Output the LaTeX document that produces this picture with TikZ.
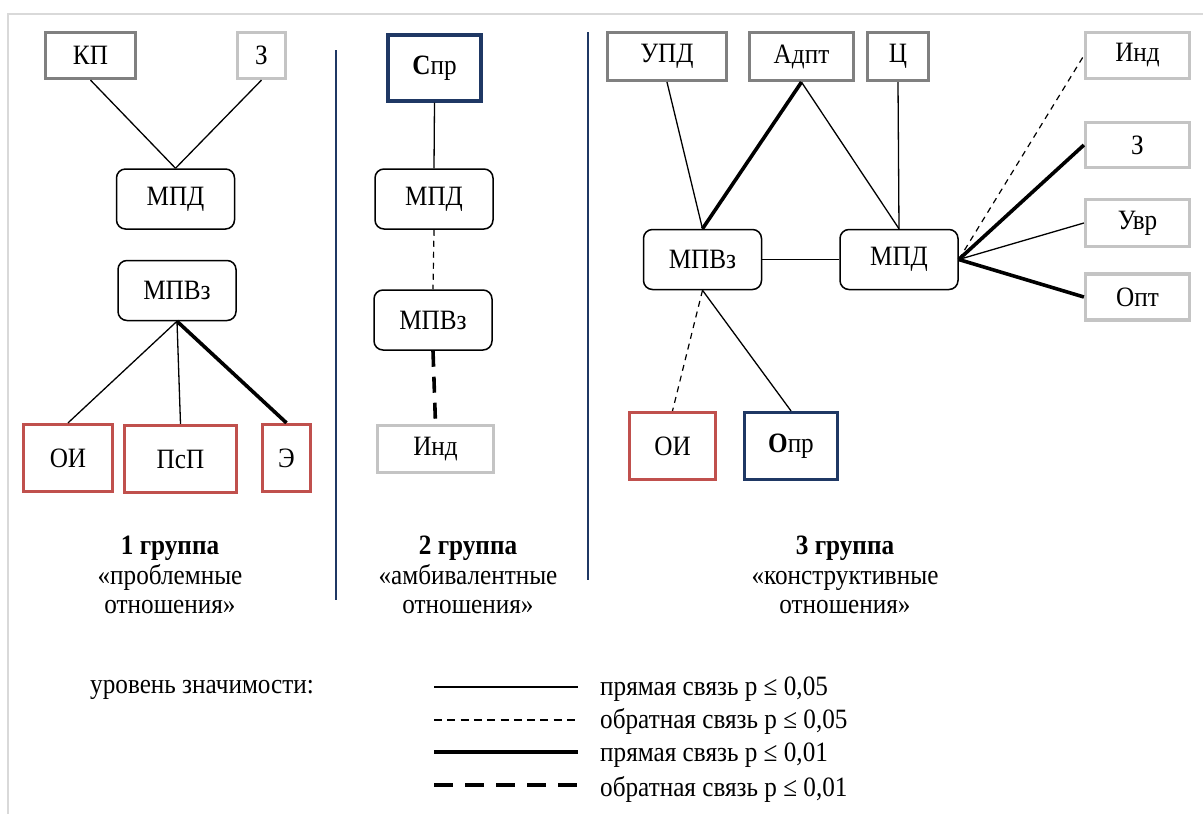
\documentclass[tikz,border=0pt]{standalone}
\usepackage{fontspec}
\setmainfont[FakeStretch=0.9]{Liberation Serif}
\definecolor{frameg}{HTML}{D9D9D9}
\definecolor{dgrey}{HTML}{808080}
\definecolor{lgrey}{HTML}{C4C4C4}
\definecolor{bred}{HTML}{C0504D}
\definecolor{navy}{HTML}{1F3864}
\tikzset{
  sq/.style={draw=#1, line width=3.2pt, inner sep=0pt, font=\fontsize{28}{30}\selectfont},
  rbox/.style={draw=black, line width=1.5pt, rounded corners=9pt, inner sep=0pt,
    minimum width=118pt, minimum height=60pt, font=\fontsize{28}{30}\selectfont},
  pline/.style={line width=1.3pt},
  bline/.style={line width=3.6pt},
  pdash/.style={line width=1.2pt, dash pattern=on 6pt off 5pt},
  bdash/.style={line width=3.6pt, dash pattern=on 16pt off 10pt},
  sep/.style={draw=navy, line width=1.4pt},
  lbl/.style={font=\fontsize{28}{29.5}\selectfont, align=center, inner sep=0pt},
  leg/.style={font=\fontsize{28}{30}\selectfont, anchor=west, inner sep=0pt}
}
\begin{document}
\begin{tikzpicture}[x=1pt,y=-1pt]
\useasboundingbox (0,0) rectangle (1203,814);
% frame
\draw[frameg, line width=2pt] (8,814) -- (8,14) -- (1203,14);
% separators
\coordinate (s1a) at (336,50); \coordinate (s1b) at (336,600);
\coordinate (s2a) at (588,32); \coordinate (s2b) at (588,580);
\draw[sep] (s1a) -- (s1b);
\draw[sep] (s2a) -- (s2b);

% ---------- group 1
\node[sq=dgrey, minimum width=90pt, minimum height=46pt] (kp) at (90.5,55.5) {КП};
\node[sq=lgrey, minimum width=48pt, minimum height=46pt] (z1) at (261.5,55.5) {З};
\node[rbox] (mpd1) at (175.5,199) {МПД};
\node[rbox] (mpvz1) at (177,290.5) {МПВз};
\node[sq=bred, minimum width=89pt, minimum height=67pt] (oi1) at (68,458) {ОИ};
\node[sq=bred, minimum width=112pt, minimum height=67pt] (psp) at (180.5,459) {ПсП};
\node[sq=bred, minimum width=48pt, minimum height=67pt] (e) at (286.5,458) {Э};
\draw[pline] (kp.south) -- (mpd1.north);
\draw[pline] (z1.south) -- (mpd1.north);
\draw[pline] (mpvz1.south) -- (oi1.north);
\draw[pline] (mpvz1.south) -- (psp.north);
\draw[bline] (mpvz1.south) -- (e.north);
\node[lbl] (g1) at (170,575) {\textbf{1 группа}\\«проблемные\\отношения»};

% ---------- group 2
\node[sq=navy, minimum width=93pt, minimum height=66pt] (spr) at (434.5,68) {\raisebox{-4pt}{\textbf{С}пр}};
\node[rbox] (mpd2) at (434,199) {МПД};
\node[rbox] (mpvz2) at (433,320) {МПВз};
\node[sq=lgrey, minimum width=116pt, minimum height=47pt] (ind2) at (435.5,449) {Инд};
\draw[pline] (spr.south) -- (mpd2.north);
\draw[pdash] (mpd2.south) -- (mpvz2.north);
\draw[bdash] (mpvz2.south) -- (ind2.north);
\node[lbl] (g2) at (468,575) {\textbf{2 группа}\\«амбивалентные\\отношения»};

% ---------- group 3
\node[sq=dgrey, minimum width=119pt, minimum height=48pt] (upd) at (667,56.5) {УПД};
\node[sq=dgrey, minimum width=104pt, minimum height=48pt] (adpt) at (801.5,56.5) {Адпт};
\node[sq=dgrey, minimum width=61pt, minimum height=48pt] (c) at (898,56.5) {Ц};
\node[sq=lgrey, minimum width=104pt, minimum height=46pt] (ind3) at (1137.5,55.5) {Инд};
\node[sq=lgrey, minimum width=104pt, minimum height=45pt] (z3) at (1137.5,145) {З};
\node[sq=lgrey, minimum width=104pt, minimum height=47pt] (uvr) at (1137.5,223) {Увр};
\node[sq=lgrey, minimum width=104pt, minimum height=46pt] (opt) at (1137.5,297) {Опт};
\node[rbox] (mpvz3) at (702.5,259.5) {МПВз};
\node[rbox] (mpd3) at (899,259.5) {МПД};
\node[sq=bred, minimum width=86pt, minimum height=67pt] (oi3) at (672.5,446) {ОИ};
\node[sq=navy, minimum width=93pt, minimum height=67pt] (opr) at (791,446) {\textbf{О}пр};
\draw[pline] (upd.south) -- (mpvz3.north);
\draw[bline] (adpt.south) -- (mpvz3.north);
\draw[pline] (adpt.south) -- (mpd3.north);
\draw[pline] (c.south) -- (mpd3.north);
\draw[pline] (mpvz3.east) -- (mpd3.west);
\draw[pdash] (mpd3.east) -- (ind3.west);
\draw[bline] (mpd3.east) -- (z3.west);
\draw[pline] (mpd3.east) -- (uvr.west);
\draw[bline] (mpd3.east) -- (opt.west);
\draw[pdash] (mpvz3.south) -- (oi3.north);
\draw[pline] (mpvz3.south) -- (opr.north);
\node[lbl] (g3) at (845,575) {\textbf{3 группа}\\«конструктивные\\отношения»};

% ---------- legend
\node[leg] (lvl) at (90,690) {уровень значимости:};
\coordinate (l1a) at (434,687); \coordinate (l1b) at (578,687);
\coordinate (l2a) at (434,720); \coordinate (l2b) at (578,720);
\coordinate (l3a) at (434,752); \coordinate (l3b) at (578,752);
\coordinate (l4a) at (434,785); \coordinate (l4b) at (578,785);
\draw[pline] (l1a) -- (l1b);
\draw[line width=1.3pt, dash pattern=on 8pt off 5.3pt] (l2a) -- (l2b);
\draw[line width=4pt] (l3a) -- (l3b);
\draw[line width=4pt, dash pattern=on 19pt off 12pt] (l4a) -- (l4b);
\node[leg] (t1) at (600,689) {прямая связь p ≤ 0,05};
\node[leg] (t2) at (600,721) {обратная связь p ≤ 0,05};
\node[leg] (t3) at (600,755) {прямая связь p ≤ 0,01};
\node[leg] (t4) at (600,789) {обратная связь p ≤ 0,01};
\end{tikzpicture}
\end{document}
